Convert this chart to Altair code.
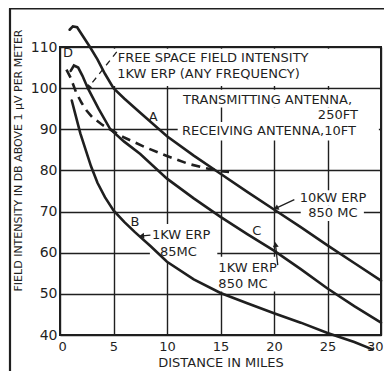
import math
import altair as alt
import pandas as pd

# ---- curve data (distance in miles, field in dB above 1 uV/m)
# A: 10 KW ERP, 850 MC
a_miles = [0.9, 1.2, 1.6, 2.1, 2.8, 3.5, 4.2, 5, 6, 7.5, 10, 12.5, 15, 17.5, 20, 22.5, 25, 27.5, 30]
a_db = [114.2, 115, 114.8, 112.8, 110, 107, 103.5, 100, 97.5, 94, 88.3, 83.6, 79.2, 74.8, 70.5, 66.2, 61.8, 57.5, 53.2]
# C: 1 KW ERP, 850 MC
c_miles = [1.0, 1.3, 1.7, 2.1, 2.6, 3.6, 4.7, 6, 7.5, 10, 12.5, 15, 17.5, 20, 22.5, 25, 27.5, 30]
c_db = [104.2, 105.5, 105, 103, 100, 95, 90, 87, 84, 78, 73.2, 68.7, 64.5, 60.5, 56, 51.3, 47, 43]
# B: 1 KW ERP, 85 MC
b_miles = [1.1, 1.4, 1.9, 2.4, 2.9, 3.5, 4.2, 5, 6, 7, 8.5, 10, 12.5, 15, 17.5, 20, 22.5, 25, 27.5, 29.2]
b_db = [97, 94, 89, 85, 81, 77, 73.5, 70.3, 67.5, 65, 61.5, 57.8, 53.5, 50.2, 47.7, 45.3, 43, 40.5, 38.3, 36.5]
# D: free space field intensity, 1 KW ERP (dashed)
d_miles = [0.6, 1.0, 1.5, 2, 2.5, 3, 4, 5, 6, 7, 8, 10, 12, 13.5, 15, 15.8]
d_db = [104.5, 102.5, 99, 96.5, 94.5, 93, 91, 89.5, 88, 86.8, 85.6, 83.5, 81.6, 80.6, 79.8, 79.6]

x_ticks = [0, 5, 10, 15, 20, 25, 30]
y_ticks = [40, 50, 60, 70, 80, 90, 100, 110]

# annotation texts (left-aligned) and their anchor points in data units
note_text = ["FREE SPACE FIELD INTENSITY", "1KW ERP (ANY FREQUENCY)",
             "TRANSMITTING ANTENNA,", "250FT", "RECEIVING ANTENNA,10FT",
             "10KW ERP", "850 MC", "1KW ERP", "85MC", "1KW ERP", "850 MC"]
note_x = [5.4, 5.35, 11.5, 24.1, 11.4, 22.4, 23.2, 8.6, 9.35, 14.8, 14.8]
note_y = [107.3, 103.5, 97.1, 93.5, 89.6, 73.4, 69.6, 64.3, 60.2, 56.3, 52.4]

letter_text = ["A", "B", "C", "D"]
letter_x = [8.7, 7.0, 18.4, 0.75]
letter_y = [93.0, 67.5, 65.3, 108.5]

# white boxes behind the annotation text (data units)
box_x1 = [0.25, 11.0, 16.0, 11.0, 21.5, 22.5, 8.4, 14.6]
box_x2 = [29.75, 29.8, 29.8, 29.8, 29.8, 28.4, 14.7, 20.4]
box_y1 = [100.5, 95.3, 91.8, 87.3, 71.4, 67.7, 57.6, 50.6]
box_y2 = [109.6, 99.6, 95.3, 91.8, 75.2, 71.4, 67.0, 59.0]

# leader lines (start -> arrow tip)
lead_x1 = [21.9, 8.45, 20.35]
lead_y1 = [72.9, 64.3, 57.0]
lead_x2 = [20.25, 7.7, 20.15]
lead_y2 = [70.9, 64.1, 61.8]
free_lead_x = [5.3, 2.7]
free_lead_y = [108.8, 100.3]

W, H = 321, 288
XMAX, YMIN, YMAX = 30, 40, 110
INK = "#1f1f1f"
FONT = "DejaVu Sans"

xs = alt.Scale(domain=[0, XMAX], nice=False, zero=False)
ys = alt.Scale(domain=[YMIN, YMAX], nice=False, zero=False)
x_axis = alt.Axis(values=x_ticks, ticks=False, domain=False, grid=True, gridColor=INK,
                  gridWidth=1.4, gridOpacity=1, labelFont=FONT, labelFontSize=13,
                  labelColor=INK, labelPadding=5, labelFlush=True, labelFlushOffset=2,
                  title="DISTANCE IN MILES", titleFont=FONT, titleFontSize=13,
                  titleFontWeight="normal", titleColor=INK, titleY=27,
                  titleBaseline="middle")
y_axis = alt.Axis(values=y_ticks, ticks=False, domain=False, grid=True, gridColor=INK,
                  gridWidth=1.4, gridOpacity=1, labelFont=FONT, labelFontSize=14,
                  labelColor=INK, labelPadding=3, labelFlush=False,
                  title="FIELD INTENSITY IN DB ABOVE 1 µV PER METER", titleFont=FONT,
                  titleFontSize=11, titleFontWeight="normal", titleColor=INK,
                  titleX=-42, titleY=113, titleAngle=270, titleAlign="center",
                  titleBaseline="middle")


def X(f):
    return alt.X(f, type="quantitative", scale=xs, axis=x_axis)


def Y(f):
    return alt.Y(f, type="quantitative", scale=ys, axis=y_axis)


curves = pd.concat([
    pd.DataFrame({"mi": a_miles, "db": a_db, "c": "A", "o": range(len(a_miles))}),
    pd.DataFrame({"mi": c_miles, "db": c_db, "c": "C", "o": range(len(c_miles))}),
    pd.DataFrame({"mi": b_miles, "db": b_db, "c": "B", "o": range(len(b_miles))}),
])
dashed = pd.DataFrame({"mi": d_miles, "db": d_db, "o": range(len(d_miles))})
boxes = pd.DataFrame({"x1": box_x1, "x2": box_x2, "y1": box_y1, "y2": box_y2})
notes = pd.DataFrame({"t": note_text, "x": note_x, "y": note_y})
letters = pd.DataFrame({"t": letter_text, "x": letter_x, "y": letter_y})

lead_rows = []
for i in range(len(lead_x1)):
    lead_rows.append({"id": i, "o": 0, "x": lead_x1[i], "y": lead_y1[i]})
    lead_rows.append({"id": i, "o": 1, "x": lead_x2[i], "y": lead_y2[i]})
leads = pd.DataFrame(lead_rows)
free_lead = pd.DataFrame({"x": free_lead_x, "y": free_lead_y, "o": [0, 1]})

kx, ky = W / XMAX, H / (YMAX - YMIN)
tips = []
for x1, y1, x2, y2 in list(zip(lead_x1, lead_y1, lead_x2, lead_y2)) + [
        (free_lead_x[0], free_lead_y[0], free_lead_x[1], free_lead_y[1])]:
    dx, dy = (x2 - x1) * kx, -(y2 - y1) * ky
    ang = math.degrees(math.atan2(dx, -dy)) % 360
    tips.append({"x": x2, "y": y2, "ang": ang})
tips = pd.DataFrame(tips)

box_layer = alt.Chart(boxes).mark_rect(color="white").encode(
    x=X("x1"), x2="x2", y=Y("y1"), y2="y2")

curve_layer = alt.Chart(curves).mark_line(color=INK, strokeWidth=2.6, strokeCap="round").encode(
    x=X("mi"), y=Y("db"), detail="c:N", order="o:Q")

dash_layer = alt.Chart(dashed).mark_line(color=INK, strokeWidth=2.6, strokeDash=[9, 6]).encode(
    x=X("mi"), y=Y("db"), order="o:Q")

lead_layer = alt.Chart(leads).mark_line(color=INK, strokeWidth=1.3).encode(
    x=X("x"), y=Y("y"), detail="id:N", order="o:Q")

free_lead_layer = alt.Chart(free_lead).mark_line(color=INK, strokeWidth=1.3, strokeDash=[6, 5]).encode(
    x=X("x"), y=Y("y"), order="o:Q")

tip_layer = alt.Chart(tips).mark_point(shape="triangle", filled=True, color=INK, size=35, opacity=1).encode(
    x=X("x"), y=Y("y"), angle=alt.Angle("ang:Q", scale=None))

note_layer = alt.Chart(notes).mark_text(align="left", baseline="middle", font=FONT,
                                        fontSize=13, color=INK).encode(
    x=X("x"), y=Y("y"), text="t:N")

letter_layer = alt.Chart(letters).mark_text(align="center", baseline="middle", font=FONT,
                                            fontSize=13, color=INK).encode(
    x=X("x"), y=Y("y"), text="t:N")

frame_left = alt.Chart(pd.DataFrame({"k": [0]})).mark_rule(color=INK, strokeWidth=2.2).encode(
    x=alt.value(-50), y=alt.value(-38.5), y2=alt.value(340))
frame_top = alt.Chart(pd.DataFrame({"k": [0]})).mark_rule(color=INK, strokeWidth=2.2).encode(
    x=alt.value(-51), x2=alt.value(340), y=alt.value(-38.5))

chart = alt.layer(
    box_layer, curve_layer, dash_layer, lead_layer, free_lead_layer, tip_layer,
    note_layer, letter_layer, frame_left, frame_top
).properties(
    width=W, height=H,
    autosize=alt.AutoSizeParams(type="none"),
    padding={"left": 52, "top": 39, "right": 3, "bottom": 36},
    background="white",
).configure_view(stroke=INK, strokeWidth=2)

chart.save("out.html", embed_options={"renderer": "svg", "actions": False})
